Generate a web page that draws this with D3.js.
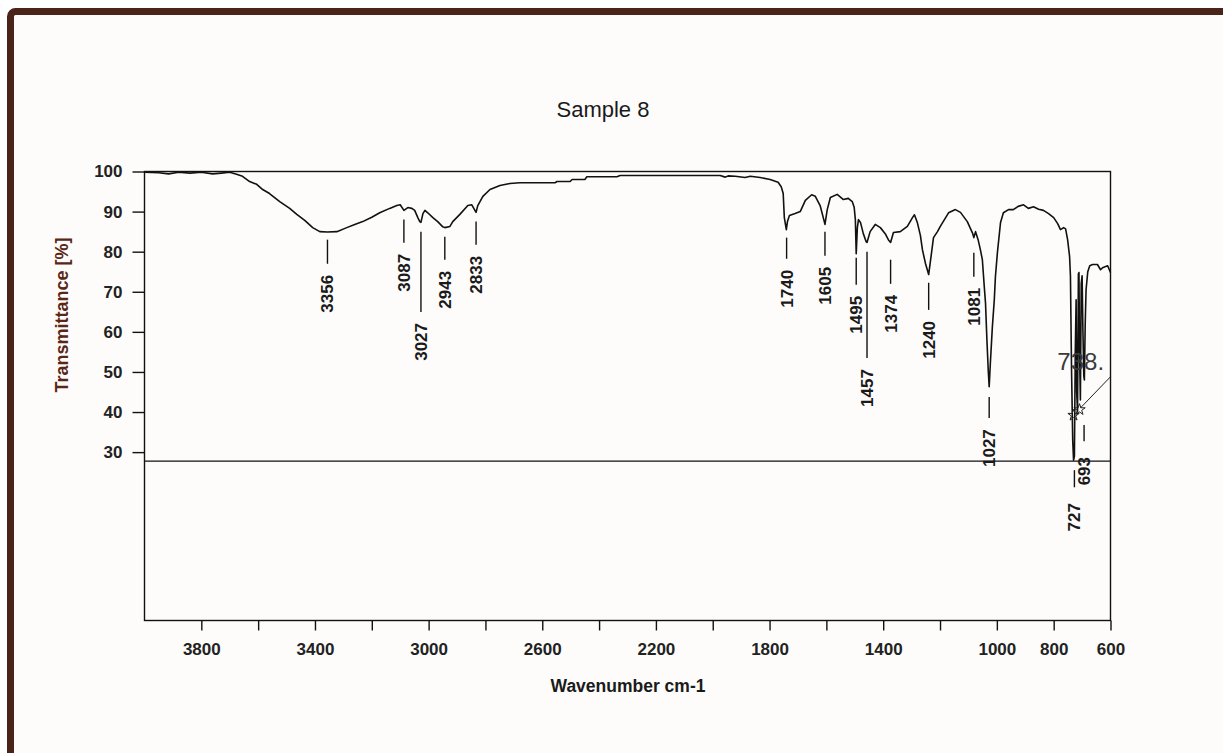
<!DOCTYPE html>
<html>
<head>
<meta charset="utf-8">
<script src="https://cdn.jsdelivr.net/npm/d3@7"></script>
<style>
  html, body { margin: 0; padding: 0; background: #ffffff; }
  svg { display: block; }
  text { font-family: "Liberation Sans", Arial, sans-serif; }
</style>
</head>
<body>
<svg id="chart" width="1223" height="753"></svg>
<script>
// ---------------- data ----------------
const chartTitle = "Sample 8";
const xAxisTitle = "Wavenumber cm-1";
const yAxisTitle = "Transmittance [%]";

const wavenumbers = [
  4000, 3950, 3915, 3880, 3840, 3800, 3760, 3730, 3700, 3676, 3655, 3630, 3605, 3584, 3560, 3524,
  3489, 3464, 3436, 3408, 3383, 3356, 3323, 3288, 3260, 3232, 3200, 3172, 3137, 3112, 3100, 3087,
  3073, 3059, 3049, 3038, 3031, 3027, 3020, 3013, 3003, 2985, 2968, 2950, 2943, 2925, 2915, 2890,
  2862, 2848, 2833, 2827, 2809, 2784, 2749, 2714, 2679, 2600, 2555, 2548, 2502, 2495, 2450, 2443,
  2337, 2326, 2150, 1974, 1956, 1946, 1921, 1886, 1868, 1833, 1798, 1770, 1759, 1752, 1748, 1741,
  1737, 1730, 1710, 1692, 1674, 1652, 1639, 1622, 1611, 1605, 1597, 1586, 1562, 1540, 1523, 1509,
  1502, 1498, 1495, 1491, 1487, 1480, 1470, 1460, 1457, 1446, 1428, 1410, 1393, 1382, 1374, 1364,
  1340, 1315, 1297, 1290, 1280, 1269, 1262, 1251, 1240, 1234, 1223, 1209, 1199, 1170, 1146, 1128,
  1104, 1086, 1081, 1075, 1066, 1058, 1051, 1044, 1040, 1035, 1030, 1027, 1023, 1016, 1009, 1005,
  998, 987, 977, 959, 942, 925, 906, 889, 871, 853, 836, 818, 800, 786, 776, 765,
  758, 751, 744, 741, 737, 733, 730, 727, 724, 721, 719, 716, 713, 711, 709, 706,
  703, 700, 697, 694, 692, 689, 686, 680, 673, 663, 646, 635, 628, 617, 610, 600
];
const transmittance = [
  99.8, 99.7, 99.4, 99.8, 99.6, 99.8, 99.4, 99.6, 99.8, 99.3, 98.8, 97.5, 96.8, 95.5, 94.5, 92.5,
  90.8, 89.3, 87.8, 86.0, 85.0, 84.9, 85.0, 86.0, 86.8, 87.5, 88.6, 89.7, 90.8, 91.5, 91.7, 90.3,
  91.0, 90.8, 90.3, 88.5, 87.5, 87.3, 89.5, 90.3, 89.7, 88.5, 87.5, 86.2, 86.0, 86.3, 87.5, 89.3,
  91.5, 91.7, 89.8, 91.5, 93.8, 95.5, 96.5, 97.0, 97.2, 97.2, 97.2, 97.5, 97.5, 98.0, 98.0, 98.7,
  98.7, 99.0, 99.0, 99.0, 98.6, 98.9, 98.8, 98.5, 98.8, 98.5, 98.0, 97.3, 96.2, 94.5, 88.5, 85.5,
  87.5, 89.0, 89.5, 90.0, 92.8, 94.2, 93.8, 91.5, 88.5, 86.8, 90.5, 93.5, 94.3, 93.0, 93.3, 92.5,
  91.0, 88.0, 79.5, 86.0, 88.0, 87.3, 84.5, 82.5, 82.3, 85.0, 86.8, 86.0, 84.5, 83.0, 82.3, 84.8,
  85.0, 86.3, 88.5, 89.2, 87.3, 84.0, 80.5, 77.0, 74.3, 77.5, 83.5, 85.0, 86.3, 89.7, 90.5, 89.8,
  87.5, 84.7, 83.5, 85.0, 83.0, 80.5, 78.0, 71.0, 67.3, 58.0, 50.0, 46.3, 52.0, 61.0, 68.0, 73.8,
  79.8, 87.3, 89.7, 90.5, 90.5, 91.3, 91.7, 90.8, 91.2, 90.6, 90.3, 89.5, 88.5, 87.0, 85.5, 86.0,
  85.7, 83.0, 78.8, 74.0, 50.0, 33.0, 28.0, 29.0, 55.0, 68.0, 45.0, 40.0, 74.5, 74.8, 55.0, 43.0,
  72.0, 74.0, 60.0, 49.0, 48.0, 62.0, 70.5, 75.0, 76.5, 76.8, 76.8, 75.5, 76.0, 76.3, 76.5, 74.8
];

// peak annotations
const peakLabels   = ["3356", "3087", "3027", "2943", "2833", "1740", "1605", "1495", "1457", "1374", "1240", "1081", "1027", "727", "693"];
const peakWave     = [3356, 3087, 3027, 2943, 2833, 1740, 1605, 1495, 1457, 1374, 1240, 1081, 1027, 727, 693];
const peakLeaderT  = [83, 88, 85, 83.75, 87.5, 83.5, 85, 78.5, 80, 78, 72.25, 79.75, 43.75, 25.5, 36.75];
const peakLabelT   = [69.5, 74.75, 57.5, 70.5, 74.25, 70.75, 71.5, 64.25, 46, 64.5, 58, 66.25, 31, 13.75, 25.25];

// axis ticks
const xTickValues = [3800, 3600, 3400, 3200, 3000, 2800, 2600, 2400, 2200, 2000, 1800, 1600, 1400, 1200, 1000, 800, 600];
const xTickLabels = [3800, 3400, 3000, 2600, 2200, 1800, 1400, 1000, 800, 600];
const yTickValues = [100, 90, 80, 70, 60, 50, 40, 30];
const xDomain = [4000, 600];
const yDomain = [-12, 100];
const baselineT = 27.75;

// floating annotation near 738
const floatText = "738.";
const floatTextAt = [787, 50.5];
const floatLine = [[600, 48.8], [706, 41]];
const floatStars = [[709, 40.6], [730, 39.2]];

// ---------------- drawing ----------------
const svg = d3.select("#chart");
const W = 1223, H = 753;
const plot = { left: 144.5, right: 1110.5, top: 171.5, bottom: 620.5 };

// page background & brown frame
svg.append("rect").attr("width", W).attr("height", H).attr("fill", "#ffffff");
svg.append("rect")
  .attr("x", 10.5).attr("y", 11.5).attr("width", 1400).attr("height", 1000)
  .attr("rx", 5).attr("fill", "#fdfcfa")
  .attr("stroke", "#4b2419").attr("stroke-width", 7);

const x = d3.scaleLinear().domain(xDomain).range([plot.left, plot.right]);
const y = d3.scaleLinear().domain(yDomain).range([plot.bottom, plot.top]);

// title
svg.append("text")
  .attr("x", 603).attr("y", 117)
  .attr("text-anchor", "middle")
  .attr("font-size", 22).attr("fill", "#1a1a1a")
  .text(chartTitle);

// plot box
svg.append("rect")
  .attr("x", plot.left).attr("y", plot.top)
  .attr("width", plot.right - plot.left).attr("height", plot.bottom - plot.top)
  .attr("fill", "none").attr("stroke", "#111").attr("stroke-width", 1.4);

// x axis
const xAxis = d3.axisBottom(x)
  .tickValues(xTickValues)
  .tickSize(10)
  .tickFormat(d => xTickLabels.includes(d) ? String(d) : "");
const gx = svg.append("g")
  .attr("transform", `translate(0,${plot.bottom})`)
  .call(xAxis);
gx.select(".domain").remove();
gx.selectAll(".tick line").attr("stroke", "#111").attr("stroke-width", 1.4);
gx.selectAll(".tick text")
  .attr("y", 22).attr("dy", "0.71em")
  .attr("font-size", 17).attr("font-weight", "bold").attr("fill", "#222")
  .style("font-family", '"Liberation Sans", Arial, sans-serif');

// y axis
const yAxis = d3.axisLeft(y).tickValues(yTickValues).tickSize(12).tickFormat(d => String(d));
const gy = svg.append("g")
  .attr("transform", `translate(${plot.left},0)`)
  .call(yAxis);
gy.select(".domain").remove();
gy.selectAll(".tick line").attr("stroke", "#111").attr("stroke-width", 1.4);
gy.selectAll(".tick text")
  .attr("x", -22)
  .attr("font-size", 17).attr("font-weight", "bold").attr("fill", "#222")
  .style("font-family", '"Liberation Sans", Arial, sans-serif');

// axis titles
svg.append("text")
  .attr("x", 628).attr("y", 692)
  .attr("text-anchor", "middle")
  .attr("font-size", 17.5).attr("font-weight", "bold").attr("fill", "#1a1a1a")
  .text(xAxisTitle);
svg.append("text")
  .attr("transform", "translate(68,315) rotate(-90)")
  .attr("text-anchor", "middle")
  .attr("font-size", 18).attr("font-weight", "bold").attr("fill", "#5a2616")
  .text(yAxisTitle);

// horizontal baseline
svg.append("line")
  .attr("x1", plot.left).attr("x2", plot.right)
  .attr("y1", y(baselineT)).attr("y2", y(baselineT))
  .attr("stroke", "#111").attr("stroke-width", 1.4);

// spectrum
const spectrum = wavenumbers.map((w, i) => [w, transmittance[i]]);
svg.append("path")
  .datum(spectrum)
  .attr("fill", "none")
  .attr("stroke", "#111")
  .attr("stroke-width", 1.6)
  .attr("stroke-linejoin", "round")
  .attr("d", d3.line().x(d => x(d[0])).y(d => y(d[1])));

// peak labels
const peaks = peakLabels.map((t, i) => ({ t, w: peakWave[i], lt: peakLeaderT[i], ct: peakLabelT[i] }));
const pg = svg.append("g");
pg.selectAll("line").data(peaks).join("line")
  .attr("x1", d => x(d.w)).attr("x2", d => x(d.w))
  .attr("y1", d => y(d.lt)).attr("y2", d => y(d.ct) - 30)
  .attr("stroke", "#111").attr("stroke-width", 1.4);
pg.selectAll("text").data(peaks).join("text")
  .attr("transform", d => `translate(${x(d.w) + 6},${y(d.ct)}) rotate(-90)`)
  .attr("text-anchor", "middle")
  .attr("font-size", 17).attr("font-weight", "bold").attr("fill", "#1a1a1a")
  .text(d => d.t);

// floating 738 annotation
svg.append("text")
  .attr("x", x(floatTextAt[0])).attr("y", y(floatTextAt[1]))
  .attr("font-size", 24).attr("fill", "#3a3a3a")
  .text(floatText);
svg.append("line")
  .attr("x1", x(floatLine[0][0])).attr("y1", y(floatLine[0][1]))
  .attr("x2", x(floatLine[1][0])).attr("y2", y(floatLine[1][1]))
  .attr("stroke", "#222").attr("stroke-width", 1);
svg.selectAll(".star").data(floatStars).join("path")
  .attr("class", "star")
  .attr("transform", d => `translate(${x(d[0])},${y(d[1])})`)
  .attr("d", d3.symbol().type(d3.symbolStar).size(40))
  .attr("fill", "none").attr("stroke", "#222").attr("stroke-width", 1);
</script>
</body>
</html>
